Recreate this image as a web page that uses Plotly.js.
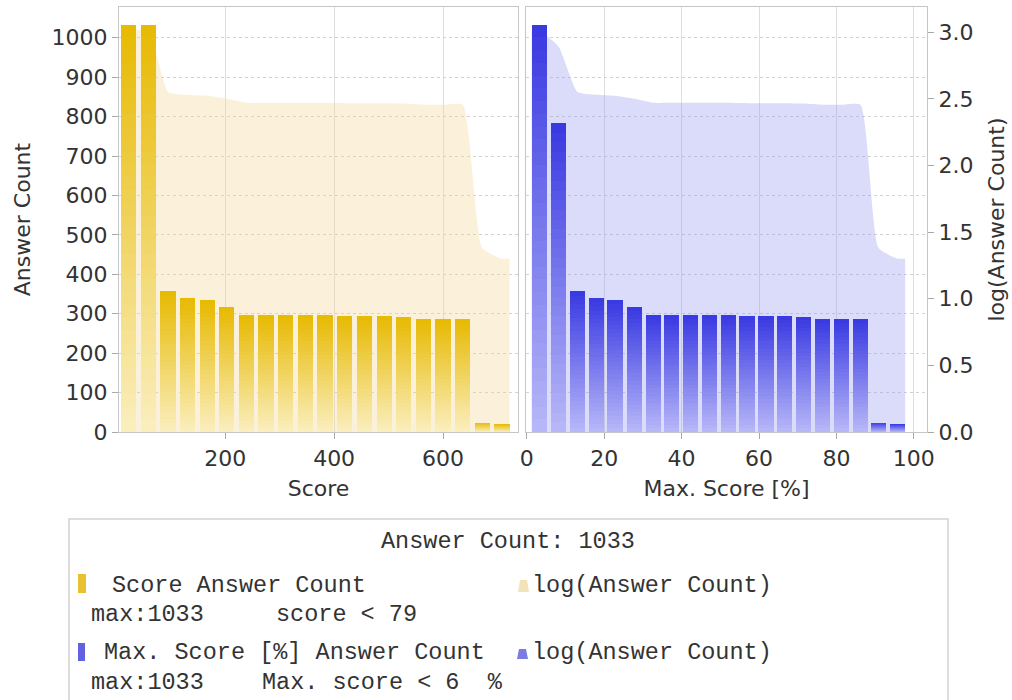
<!DOCTYPE html>
<html>
<head>
<meta charset="utf-8">
<script src="https://cdn.plot.ly/plotly-3.0.1.min.js"></script>
<style>html,body{margin:0;padding:0;background:#fff;}#chart{width:1012px;height:700px;}</style>
</head>
<body>
<div id="chart"></div>
<script>
// ---- data ----
const scoreBins = [23, 59, 95, 131, 167, 203, 239, 275, 311, 347, 383, 419, 456, 492, 528, 564, 600, 636, 672, 708];
const scoreCounts = [1033, 1033, 357, 340, 334, 317, 296, 296, 296, 296, 296, 294, 294, 294, 292, 286, 286, 286, 24, 20];
const maxPctBins = [3.2, 8.2, 13.1, 17.9, 22.8, 27.8, 32.7, 37.5, 42.4, 47.3, 52.1, 56.9, 61.8, 66.6, 71.5, 76.3, 81.2, 86.2, 90.9, 95.8];
const maxPctCounts = [1033, 784, 357, 340, 334, 317, 296, 296, 296, 296, 296, 294, 294, 294, 292, 286, 286, 286, 24, 20];

const xTitleLeft = "Score";
const xTitleRight = "Max. Score [%]";
const yTitleLeft = "Answer Count";
const yTitleRight = "log(Answer Count)";

const legendTitle = "Answer Count: 1033";
const legendRows = [
  ["Score Answer Count", "log(Answer Count)"],
  ["max:1033", "score < 79"],
  ["Max. Score [%] Answer Count", "log(Answer Count)"],
  ["max:1033", "Max. score < 6\u00A0\u00A0%"]
];

// ---- style ----
const FONT = "DejaVu Sans, sans-serif";
const MONO = "Liberation Mono, monospace";
const NSEG = 32;
const yellowTop = [231, 186, 4], yellowBot = [250, 238, 188];
const blueTop = [58, 58, 226], blueBot = [182, 182, 248];

function mix(a, b, t) {
  return "rgb(" + a.map((v, i) => Math.round(v + (b[i] - v) * t)).join(",") + ")";
}

const traces = [];

function areaTrace(bins, counts, halfw, xa, ya, color) {
  const lg = counts.map(c => Math.log10(c));
  const xs = [bins[0] - halfw].concat(bins, [bins[bins.length - 1] + halfw]);
  const ys = [lg[0]].concat(lg, [lg[lg.length - 1]]);
  return {type: "scatter", x: xs, y: ys, xaxis: xa, yaxis: ya, mode: "lines",
    line: {width: 0, shape: "spline", smoothing: 0.5}, fill: "tozeroy",
    fillcolor: color, hoverinfo: "skip", showlegend: false};
}

function gradientBars(bins, counts, width, xa, ya, top, bot) {
  for (let k = 0; k < NSEG; k++) {
    traces.push({type: "bar", x: bins, y: counts.map(c => c / NSEG), width: width,
      xaxis: xa, yaxis: ya, marker: {color: mix(bot, top, k / (NSEG - 1)), line: {width: 0}},
      hoverinfo: "skip", showlegend: false});
  }
}

traces.push(areaTrace(scoreBins, scoreCounts, 14, "x", "y", "rgba(243,214,150,0.36)"));
traces.push(areaTrace(maxPctBins, maxPctCounts, 1.95, "x2", "y4", "rgba(150,150,240,0.34)"));
gradientBars(scoreBins, scoreCounts, 28, "x", "y2", yellowTop, yellowBot);
gradientBars(maxPctBins, maxPctCounts, 3.9, "x2", "y5", blueTop, blueBot);

// geometry of plot area in px
const ML = 119, MT = 7, PW = 808, PH = 425;
const px2x = p => (p - ML) / PW;
const py2y = p => (MT + PH - p) / PH;

const tickFont = {family: FONT, size: 22, color: "#333"};
const titleFont = {family: FONT, size: 22, color: "#333"};
const frame = {showline: true, mirror: true, linecolor: "#c6c6c6", linewidth: 1.2};

const shapes = [
  {type: "rect", xref: "paper", yref: "paper", x0: px2x(69), x1: px2x(948), y0: py2y(519), y1: py2y(706),
   line: {color: "#d2d2d2", width: 1.5}, fillcolor: "rgba(0,0,0,0)", layer: "below"},
  {type: "rect", xref: "paper", yref: "paper", x0: px2x(78), x1: px2x(86), y0: py2y(574), y1: py2y(593),
   line: {width: 0}, fillcolor: "#e6c233"},
  {type: "rect", xref: "paper", yref: "paper", x0: px2x(78), x1: px2x(85), y0: py2y(643), y1: py2y(661),
   line: {width: 0}, fillcolor: "#6262e0"}
];
function trap(x0, x1, yb, yt, col) {
  const p = "M" + px2x(x0) + "," + py2y(yb) + " L" + px2x(x0 + 2) + "," + py2y(yt) + " L" + px2x(x1 - 2) + "," + py2y(yt) +
    " L" + px2x(x1) + "," + py2y(yb) + " Z";
  return {type: "path", xref: "paper", yref: "paper", path: p, line: {width: 0}, fillcolor: col};
}
shapes.push(trap(518, 529, 592, 580, "#f2e3b8"));
shapes.push(trap(517, 528, 659, 649, "#7b7be2"));

const annFont = {family: MONO, size: 23.5, color: "#333"};
function ann(text, px, py, anchor) {
  return {text: text, xref: "paper", yref: "paper", x: px2x(px), y: py2y(py), xanchor: anchor || "left",
    yanchor: "middle", showarrow: false, font: annFont, borderpad: 0, borderwidth: 0};
}
const annotations = [
  ann(legendTitle, 508, 541, "center"),
  ann(legendRows[0][0], 112, 585), ann(legendRows[0][1], 532, 585),
  ann(legendRows[1][0], 91, 614), ann(legendRows[1][1], 276, 614),
  ann(legendRows[2][0], 104, 652), ann(legendRows[2][1], 532, 652),
  ann(legendRows[3][0], 91, 682), ann(legendRows[3][1], 262, 682)
];

const layout = {
  width: 1012, height: 700,
  margin: {l: ML, r: 1012 - ML - PW, t: MT, b: 700 - MT - PH, pad: 0},
  paper_bgcolor: "#fff", plot_bgcolor: "rgba(0,0,0,0)",
  barmode: "stack", showlegend: false,
  font: {family: FONT, color: "#333"},
  xaxis: Object.assign({domain: [0, 399 / 808], anchor: "y", range: [5, 737.6], tick0: 0, dtick: 200,
    showgrid: true, gridcolor: "#dedede", zeroline: false, ticks: "outside", ticklen: 6, tickcolor: "#aaa",
    tickfont: tickFont, title: {text: xTitleLeft, font: titleFont, standoff: 11}}, frame),
  yaxis: {domain: [0, 1], anchor: "x", range: [0, 3.19], visible: false, showgrid: false, zeroline: false},
  yaxis2: Object.assign({overlaying: "y", anchor: "x", side: "left", range: [0, 1078], dtick: 100, tick0: 0,
    showgrid: true, gridcolor: "#d2d2d2", griddash: "dot", zeroline: false, ticks: "outside", ticklen: 6,
    tickcolor: "#aaa", tickfont: tickFont, title: {text: yTitleLeft, font: titleFont, standoff: 14}}, frame),
  xaxis2: Object.assign({domain: [407 / 808, 1], anchor: "y4", range: [-0.2, 103.4], tick0: 0, dtick: 20,
    showgrid: true, gridcolor: "#dedede", zeroline: false, ticks: "outside", ticklen: 6, tickcolor: "#aaa",
    tickfont: tickFont, title: {text: xTitleRight, font: titleFont, standoff: 11}}, frame),
  yaxis4: Object.assign({domain: [0, 1], anchor: "x2", side: "right", range: [0, 3.19], dtick: 0.5, tick0: 0,
    tickformat: ".1f", showgrid: false, zeroline: false, ticks: "outside", ticklen: 6, tickcolor: "#aaa",
    tickfont: tickFont, title: {text: yTitleRight, font: titleFont, standoff: 16}}, frame),
  yaxis5: {overlaying: "y4", anchor: "x2", side: "left", range: [0, 1078], dtick: 100, tick0: 0,
    showgrid: true, gridcolor: "#d2d2d2", griddash: "dot", zeroline: false, showticklabels: false,
    ticks: "", showline: false},
  shapes: shapes,
  annotations: annotations
};

Plotly.newPlot("chart", traces, layout, {staticPlot: true, displayModeBar: false});
</script>
</body>
</html>
